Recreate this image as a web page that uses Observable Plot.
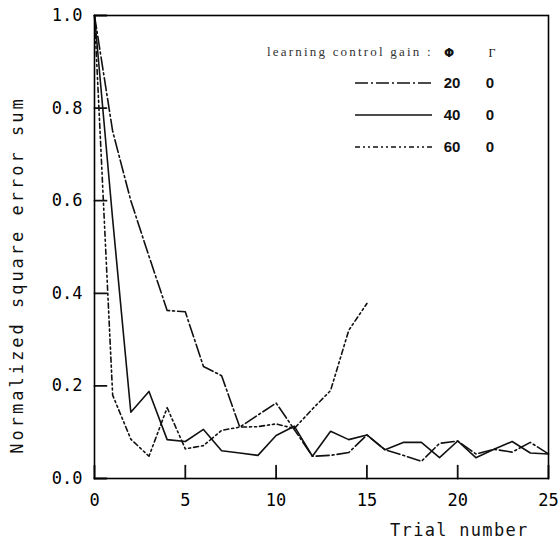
<!DOCTYPE html>
<html><head><meta charset="utf-8">
<script src="https://cdn.jsdelivr.net/npm/d3@7"></script>
<script src="https://cdn.jsdelivr.net/npm/@observablehq/plot@0.6"></script>
<style>
body{margin:0;background:#fff;}
#wrap{position:relative;width:560px;height:549px;overflow:hidden;}
#wrap svg.legend{position:absolute;left:0;top:0;}
</style></head><body><div id="wrap"></div>
<script>
// ---- data ----
const trials = [0,1,2,3,4,5,6,7,8,9,10,11,12,13,14,15,16,17,18,19,20,21,22,23,24,25];
const gain20 = [1.0,0.75,0.60,0.48,0.363,0.36,0.242,0.222,0.111,0.137,0.163,0.106,0.048,0.05,0.056,0.094,0.062,0.05,0.037,0.076,0.081,0.053,0.063,0.057,0.078,0.053];
const gain40 = [1.0,0.56,0.143,0.188,0.084,0.08,0.106,0.06,0.055,0.05,0.093,0.113,0.048,0.102,0.084,0.094,0.062,0.078,0.078,0.045,0.081,0.045,0.063,0.08,0.055,0.053];
const gain60 = [1.0,0.18,0.085,0.048,0.153,0.064,0.071,0.104,0.111,0.112,0.118,0.108,0.15,0.19,0.32,0.378];
const xTicks = [0,5,10,15,20,25];
const yTicks = [0,0.2,0.4,0.6,0.8,1.0];
const seriesNames = ["20","40","60"];
const gammaValues = ["0","0","0"];
const xLabel = "Trial number";
const yLabel = "Normalized square error sum";
const legendTitle = "learning control gain :";
const phiSymbol = "Φ";
const gammaSymbol = "Γ";

// styles
const dashes = {"20":"13,3,2,3","40":null,"60":"5,3,2,3,2,3"};
const values = {"20":gain20,"40":gain40,"60":gain60};
const xTickLen = 0.028; // inward tick length, y units (~13px)
const yTickLen = 0.66;  // inward tick length, x units (~12px)

const rows = [];
for (const s of seriesNames) {
  values[s].forEach((v,i)=>rows.push({series:s, trial:trials[i], value:v}));
}
// inward tick segments built from the tick arrays
const tickSegs = [];
xTicks.forEach(v => { tickSegs.push({id:"x"+v, x:v, y:0}, {id:"x"+v, x:v, y:xTickLen}); });
yTicks.forEach(v => { tickSegs.push({id:"y"+v, x:0, y:v}, {id:"y"+v, x:yTickLen, y:v}); });

const mono = "'DejaVu Sans Mono', monospace";

const chart = Plot.plot({
  width: 560, height: 549,
  marginLeft: 94, marginRight: 12, marginTop: 15, marginBottom: 71,
  style: {fontFamily: mono, fontSize: "17px"},
  x: {domain: [0,25]},
  y: {domain: [0,1]},
  marks: [
    ...seriesNames.map(s => Plot.line(rows.filter(d=>d.series===s), {
      x: "trial", y: "value", stroke: "#111", strokeWidth: 1.6,
      strokeDasharray: dashes[s] ?? undefined
    })),
    Plot.line(tickSegs, {x: "x", y: "y", z: "id", stroke: "#111", strokeWidth: 1.8}),
    Plot.axisX({ticks: xTicks, tickSize: 0, tickPadding: 15, tickFormat: d3.format("d"), label: null, fontSize: 17}),
    Plot.axisY({ticks: yTicks, tickSize: 0, tickPadding: 12, tickFormat: d3.format(".1f"), label: null, fontSize: 17}),
    Plot.frame({strokeWidth: 1.6}),
    Plot.text([xLabel], {frameAnchor: "bottom-right", textAnchor: "end", dx: -20, dy: 57, fontSize: 17, fill: "#111"}),
    Plot.text([yLabel], {frameAnchor: "left", textAnchor: "middle", rotate: -90, dx: -77, dy: 28, fontSize: 17, fill: "#111"})
  ]
});
document.getElementById("wrap").appendChild(chart);
d3.select(chart).selectAll("text").each(function(){
  const t = this.textContent;
  if (t === xLabel) d3.select(this).attr("letter-spacing","1.3px");
  if (t === yLabel) d3.select(this).attr("letter-spacing","3px");
});

// legend overlay
const lg = d3.select("#wrap").append("svg").attr("class","legend").attr("width",560).attr("height",549);
lg.append("text").attr("x",267).attr("y",56).text(legendTitle)
  .attr("font-family","'Liberation Serif', serif").attr("font-size",13).attr("letter-spacing","2.2px").attr("fill","#333");
lg.append("text").attr("x",449).attr("y",57).attr("text-anchor","middle").text(phiSymbol)
  .attr("font-family","'DejaVu Sans', sans-serif").attr("font-weight","bold").attr("font-size",12).attr("fill","#111");
lg.append("text").attr("x",492).attr("y",57).attr("text-anchor","middle").text(gammaSymbol)
  .attr("font-family","'Liberation Serif', serif").attr("font-size",12).attr("fill","#111");
const rowY = [83,115,147];
seriesNames.forEach((s,i)=>{
  const y = rowY[i];
  lg.append("line").attr("x1",355).attr("x2",432).attr("y1",y).attr("y2",y)
    .attr("stroke","#111").attr("stroke-width",1.6).attr("stroke-dasharray",dashes[s]);
  lg.append("text").attr("x",452).attr("y",y+5).attr("text-anchor","middle").text(s)
    .attr("font-family","'Liberation Sans', sans-serif").attr("font-weight","bold").attr("font-size",15).attr("fill","#111");
  lg.append("text").attr("x",490).attr("y",y+5).attr("text-anchor","middle").text(gammaValues[i])
    .attr("font-family","'Liberation Sans', sans-serif").attr("font-weight","bold").attr("font-size",15).attr("fill","#111");
});
</script></body></html>
